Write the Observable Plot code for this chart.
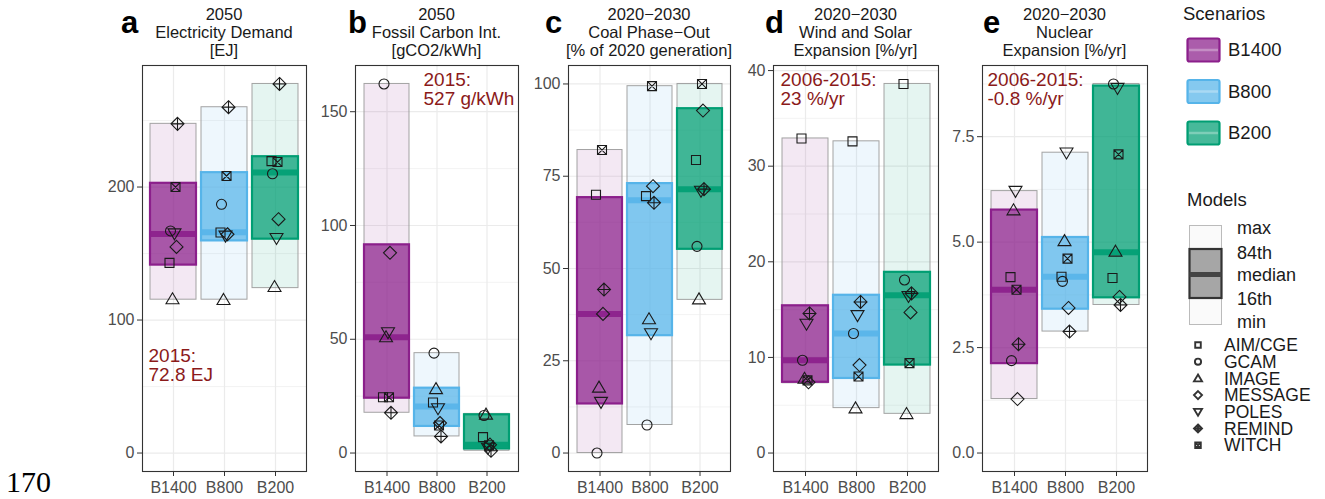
<!DOCTYPE html>
<html>
<head>
<meta charset="utf-8">
<script src="https://cdn.jsdelivr.net/npm/d3@7"></script>
<script src="https://cdn.jsdelivr.net/npm/@observablehq/plot@0.6"></script>
<style>
  html, body { margin: 0; padding: 0; background: #fff; }
  #root { position: relative; width: 1325px; height: 499px; overflow: hidden; font-family: "Liberation Sans", Arial, sans-serif; }
  .panel { position: absolute; top: 60px; }
  #overlay { position: absolute; left: 0; top: 0; pointer-events: none; }
</style>
</head>
<body>
<div id="root"></div>
<script>
// ---------------- DATA ----------------
const scenarios = ["B1400", "B800", "B200"];
const scenarioColors = ["#8B1F8B", "#56B4E9", "#009E73"];
const models = ["AIM/CGE", "GCAM", "IMAGE", "MESSAGE", "POLES", "REMIND", "WITCH"];
const boxLabels = ["max", "84th", "median", "16th", "min"];

// model values per scenario, ordered as `models`
const demandValues = [
  [143, 167, 115.8, 155, 165, 247.5, 200],
  [165.8, 187, 115.3, 164.5, 163.3, 260, 208.3],
  [219.5, 210, 125, 175.8, 161.5, 277.5, 218.8]
];
// [min, p16, median, p84, max] per scenario
const demandBox = [
  [115.3, 141.3, 164.6, 202.8, 247.5],
  [115.3, 159.5, 166, 210.8, 260],
  [124, 160.8, 211, 222.8, 277.5]
];
const demandTicks = [0, 100, 200];

const carbonValues = [
  [24.5, 162.2, 51, 88, 53, 17.7, 24.5],
  [22.2, 43.9, 28.2, 13.2, 19.6, 7.3, 12.1],
  [7, 16.5, 17, 3.7, 2.2, 1, 3.4]
];
const carbonBox = [
  [17.7, 24.1, 50.9, 91.5, 162.2],
  [7.3, 11.7, 20.5, 28.5, 43.9],
  [1, 1.8, 3.7, 16.8, 17.2]
];
const carbonTicks = [0, 50, 100, 150];

const coalValues = [
  [70, 0, 17.8, 37.7, 13.8, 44.3, 82.1],
  [69.6, 7.6, 36.3, 72.3, 32.4, 67.8, 99.4],
  [79.4, 56, 41.7, 92.8, 71, 71.5, 100]
];
const coalBox = [
  [0, 13.3, 37.7, 69.2, 82.1],
  [7.6, 31.8, 68.5, 73, 99.4],
  [41.5, 55.2, 71.5, 93.3, 100]
];
const coalTicks = [0, 25, 50, 75, 100];

const windValues = [
  [32.9, 9.7, 7.8, 7.4, 13.5, 14.6, 7.6],
  [32.6, 12.5, 4.7, 9.2, 14.4, 15.8, 8.0],
  [38.6, 18.1, 4.1, 14.7, 16.4, 16.7, 9.4]
];
const windBox = [
  [7.3, 7.4, 9.7, 15.4, 32.9],
  [4.7, 7.8, 12.5, 16.5, 32.6],
  [4.1, 9.2, 16.5, 18.9, 38.6]
];
const windTicks = [0, 10, 20, 30, 40];

const nuclearValues = [
  [4.17, 2.19, 5.76, 1.28, 6.21, 2.58, 3.87],
  [4.18, 4.07, 5.03, 3.44, 7.12, 2.88, 4.61],
  [4.15, 8.75, 4.78, 3.70, 8.65, 3.51, 7.08]
];
const nuclearBox = [
  [1.28, 2.12, 3.87, 5.76, 6.21],
  [2.88, 3.41, 4.18, 5.11, 7.12],
  [3.51, 3.68, 4.76, 8.7, 8.75]
];
const nuclearTicks = [0, 2.5, 5, 7.5];

const panelLetters = ["a", "b", "c", "d", "e"];
const panelTitles = [
  ["2050", "Electricity Demand", "[EJ]"],
  ["2050", "Fossil Carbon Int.", "[gCO2/kWh]"],
  ["2020\u22122030", "Coal Phase\u2212Out", "[% of 2020 generation]"],
  ["2020\u22122030", "Wind and Solar", "Expansion [%/yr]"],
  ["2020\u22122030", "Nuclear", "Expansion [%/yr]"]
];
const panelNotes = ["2015:\n72.8 EJ", "2015:\n527 g/kWh", null, "2006-2015:\n23 %/yr", "2006-2015:\n-0.8 %/yr"];
const pageNumber = "170";

// ---------------- STYLE ----------------
const SYM = {
  square: { draw(c, s) { const r = Math.sqrt(s / Math.PI) * 0.9; c.moveTo(-r, -r); c.lineTo(r, -r); c.lineTo(r, r); c.lineTo(-r, r); c.closePath(); } },
  circle: { draw(c, s) { const r = Math.sqrt(s / Math.PI); c.moveTo(r, 0); c.arc(0, 0, r, 0, 2 * Math.PI); c.closePath(); } },
  triUp: { draw(c, s) { const r = Math.sqrt(s / Math.PI); c.moveTo(0, -1.25 * r); c.lineTo(1.3 * r, 0.95 * r); c.lineTo(-1.3 * r, 0.95 * r); c.closePath(); } },
  diamond: { draw(c, s) { const r = Math.sqrt(s / Math.PI) * 1.3; c.moveTo(0, -r); c.lineTo(r, 0); c.lineTo(0, r); c.lineTo(-r, 0); c.closePath(); } },
  triDown: { draw(c, s) { const r = Math.sqrt(s / Math.PI); c.moveTo(0, 1.25 * r); c.lineTo(1.3 * r, -0.95 * r); c.lineTo(-1.3 * r, -0.95 * r); c.closePath(); } },
  diamondPlus: { draw(c, s) { const r = Math.sqrt(s / Math.PI) * 1.3; c.moveTo(0, -r); c.lineTo(r, 0); c.lineTo(0, r); c.lineTo(-r, 0); c.closePath(); c.moveTo(0, -r); c.lineTo(0, r); c.moveTo(-r, 0); c.lineTo(r, 0); } },
  squareX: { draw(c, s) { const r = Math.sqrt(s / Math.PI) * 0.9; c.moveTo(-r, -r); c.lineTo(r, -r); c.lineTo(r, r); c.lineTo(-r, r); c.closePath(); c.moveTo(-r, -r); c.lineTo(r, r); c.moveTo(r, -r); c.lineTo(-r, r); } }
};
const modelSymbols = { "AIM/CGE": SYM.square, "GCAM": SYM.circle, "IMAGE": SYM.triUp, "MESSAGE": SYM.diamond, "POLES": SYM.triDown, "REMIND": SYM.diamondPlus, "WITCH": SYM.squareX };
const modelJitter = { "AIM/CGE": -4, "GCAM": -3, "IMAGE": -1, "MESSAGE": 3, "POLES": 1, "REMIND": 4, "WITCH": 2 };

const layout = [
  { left: 142, width: 164, noteDx: 6, noteDy: 283 },
  { left: 355, width: 163, noteDx: 68, noteDy: 7 },
  { left: 568, width: 162, noteDx: 0, noteDy: 0 },
  { left: 773, width: 165, noteDx: 7, noteDy: 7 },
  { left: 982, width: 165, noteDx: 5, noteDy: 7 }
];
const letterX = [121, 348, 545, 765, 983];

const ML = 45, MR = 6, MT = 5, MB = 28, FRAME_H = 406;
const root = document.getElementById("root");

function makePanel(values, box, ticks, note, lay, fmt) {
  const pts = [];
  scenarios.forEach((s, si) => models.forEach((m, mi) => pts.push({ scenario: s, model: m, value: values[si][mi] })));
  const boxes = scenarios.map((s, si) => ({ scenario: s, min: box[si][0], p16: box[si][1], med: box[si][2], p84: box[si][3], max: box[si][4] }));
  const top = d3.max(boxes, d => d.max);
  const lo = -0.05 * top, hi = top * 1.05;
  const step = ticks[1] - ticks[0];
  const minor = d3.range(ticks[0] - step / 2, hi, step).filter(v => v > lo && v < hi && !ticks.includes(v));
  const colorOf = s => scenarioColors[scenarios.indexOf(s)];
  const marks = [
    Plot.gridY({ ticks: minor, stroke: "#EBEBEB", strokeOpacity: 1, strokeWidth: 0.6 }),
    Plot.gridY({ ticks: ticks, stroke: "#EBEBEB", strokeOpacity: 1, strokeWidth: 1.2 }),
    Plot.gridX({ stroke: "#EBEBEB", strokeOpacity: 1, strokeWidth: 1.2 }),
    Plot.barY(boxes, { x: "scenario", y1: "min", y2: "max", fill: d => colorOf(d.scenario), fillOpacity: 0.1, stroke: "#999", strokeOpacity: 0.9, strokeWidth: 1 }),
    Plot.barY(boxes, { x: "scenario", y1: "p16", y2: "p84", fill: d => colorOf(d.scenario), fillOpacity: 0.72, stroke: d => colorOf(d.scenario), strokeWidth: 2.2 }),
    Plot.tickY(boxes, { x: "scenario", y: "med", stroke: d => colorOf(d.scenario), strokeWidth: 6, strokeOpacity: 0.9 }),
    ...models.map(m => Plot.dot(pts.filter(d => d.model === m), {
      x: "scenario", y: "value", symbol: modelSymbols[m], r: 5, fill: "none",
      stroke: "#1a1a1a", strokeWidth: 1.1, dx: modelJitter[m]
    })),
    Plot.axisY({ ticks: ticks, tickSize: 5, tickPadding: 3, fontSize: 16, stroke: "#333", fill: "#4D4D4D", tickFormat: fmt, label: null }),
    Plot.axisX({ tickSize: 5, tickPadding: 5, fontSize: 16, stroke: "#333", fill: "#4D4D4D", label: null }),
    Plot.frame({ stroke: "#333", strokeWidth: 1.1 })
  ];
  if (note) marks.push(Plot.text([note], {
    frameAnchor: "top-left", dx: lay.noteDx, dy: lay.noteDy, lineAnchor: "top", textAnchor: "start",
    fill: "#8B1A1A", fontSize: 19, lineHeight: 1.0
  }));
  const svg = Plot.plot({
    width: ML + lay.width + MR, height: MT + FRAME_H + MB,
    marginLeft: ML, marginRight: MR, marginTop: MT, marginBottom: MB,
    x: { type: "band", domain: scenarios, paddingInner: 0.1, paddingOuter: 0.15, label: null },
    y: { domain: [lo, hi], label: null },
    style: { fontFamily: "Liberation Sans, Arial, sans-serif", fontSize: "16px", color: "#4D4D4D", background: "transparent", overflow: "visible" },
    marks
  });
  const div = document.createElement("div");
  div.className = "panel";
  div.style.left = (lay.left - ML) + "px";
  div.appendChild(svg);
  root.appendChild(div);
}

const allValues = [demandValues, carbonValues, coalValues, windValues, nuclearValues];
const allBoxes = [demandBox, carbonBox, coalBox, windBox, nuclearBox];
const allTicks = [demandTicks, carbonTicks, coalTicks, windTicks, nuclearTicks];
const fmts = [d3.format("d"), d3.format("d"), d3.format("d"), d3.format("d"), d3.format(".1f")];
allValues.forEach((v, i) => makePanel(v, allBoxes[i], allTicks[i], panelNotes[i], layout[i], fmts[i]));

// ---------------- OVERLAY: titles, letters, legend ----------------
const ov = d3.select(root).append("svg").attr("id", "overlay").attr("width", 1325).attr("height", 499)
  .style("font-family", "Liberation Sans, Arial, sans-serif");
ov.append("defs").append("clipPath").attr("id", "clipc").append("rect")
  .attr("x", 540).attr("y", 0).attr("width", 199).attr("height", 70);

panelTitles.forEach((lines, i) => {
  const cx = layout[i].left + layout[i].width / 2;
  const g = ov.append("g");
  if (i === 2) g.attr("clip-path", "url(#clipc)");
  lines.forEach((t, j) => {
    g.append("text").attr("x", cx).attr("y", 19.5 + j * 18.4).attr("text-anchor", "middle")
      .attr("font-size", 16.5).attr("fill", "#1a1a1a").text(t);
  });
  ov.append("text").attr("x", letterX[i]).attr("y", 33).attr("font-size", 31).attr("font-weight", "bold")
    .attr("fill", "#000").text(panelLetters[i]);
});

// Scenario legend
const lg = ov.append("g");
lg.append("text").attr("x", 1183).attr("y", 13.5).attr("dy", "0.35em").attr("font-size", 18.5).attr("fill", "#1a1a1a").text("Scenarios");
const keyY = [50, 91.5, 133];
scenarios.forEach((s, i) => {
  lg.append("rect").attr("x", 1187.5).attr("y", keyY[i] - 11.5).attr("width", 32).attr("height", 23).attr("rx", 2)
    .attr("fill", scenarioColors[i]).attr("fill-opacity", 0.72).attr("stroke", scenarioColors[i]).attr("stroke-width", 2.2);
  lg.append("line").attr("x1", 1189).attr("x2", 1218).attr("y1", keyY[i]).attr("y2", keyY[i])
    .attr("stroke", "#fff").attr("stroke-opacity", 0.3).attr("stroke-width", 2.5);
  lg.append("text").attr("x", 1228).attr("y", keyY[i]).attr("dy", "0.35em").attr("font-size", 18.5).attr("fill", "#1a1a1a").text(s);
});

// Models box legend
lg.append("text").attr("x", 1187).attr("y", 200).attr("dy", "0.35em").attr("font-size", 18.5).attr("fill", "#1a1a1a").text("Models");
lg.append("rect").attr("x", 1189.5).attr("y", 225.5).attr("width", 32).attr("height", 99)
  .attr("fill", "#FAFAFA").attr("stroke", "#BBB").attr("stroke-width", 1);
lg.append("rect").attr("x", 1189.5).attr("y", 249).attr("width", 32).attr("height", 49)
  .attr("fill", "#A6A6A6").attr("stroke", "#333").attr("stroke-width", 2.2);
lg.append("line").attr("x1", 1189.5).attr("x2", 1221.5).attr("y1", 274.5).attr("y2", 274.5)
  .attr("stroke", "#444").attr("stroke-width", 5);
const boxLabelY = [228, 252.5, 275, 298.5, 322];
boxLabels.forEach((t, i) => {
  lg.append("text").attr("x", 1237).attr("y", boxLabelY[i]).attr("dy", "0.35em").attr("font-size", 18).attr("fill", "#1a1a1a").text(t);
});

// Symbol legend
models.forEach((m, i) => {
  const y = 345 + i * 16.7;
  lg.append("path").attr("transform", `translate(1198,${y})`)
    .attr("d", d3.symbol(modelSymbols[m], 30)())
    .attr("fill", "none").attr("stroke", "#333").attr("stroke-width", 1.9);
  lg.append("text").attr("x", 1224).attr("y", y).attr("dy", "0.35em").attr("font-size", 17.5).attr("fill", "#1a1a1a").text(m);
});

// Page number
ov.append("text").attr("x", 6).attr("y", 492).attr("font-family", "Liberation Serif, serif").attr("font-size", 30)
  .attr("fill", "#000").text(pageNumber);
</script>
</body>
</html>
